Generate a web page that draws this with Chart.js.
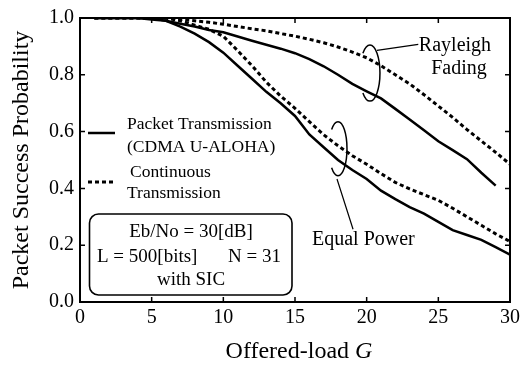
<!DOCTYPE html>
<html>
<head>
<meta charset="utf-8">
<script src="https://cdn.jsdelivr.net/npm/chart.js@4"></script>
<style>
html, body { margin: 0; padding: 0; background: #fff; }
</style>
</head>
<body>
<canvas id="chart" width="531" height="369"></canvas>
<script>
// Offered load G (x axis)
const loads = [1, 2, 3, 4, 5, 6, 7, 8, 9, 10, 11, 12, 13, 14, 15, 16, 17, 18, 19, 20, 21, 22, 23, 24, 25, 26, 27, 28, 29, 30];
// Rayleigh fading
const fadingPacket = [1.0, 1.0, 1.0, 1.0, 0.995, 0.99, 0.98, 0.97, 0.958, 0.95, 0.935, 0.92, 0.906, 0.892, 0.876, 0.855, 0.83, 0.8, 0.768, 0.742, 0.717, 0.68, 0.643, 0.605, 0.566, 0.535, 0.503, 0.455, 0.41];
const fadingContinuous = [1.0, 1.0, 1.0, 1.0, 1.0, 1.0, 0.995, 0.99, 0.985, 0.978, 0.97, 0.962, 0.955, 0.945, 0.936, 0.925, 0.913, 0.898, 0.88, 0.86, 0.832, 0.8, 0.768, 0.73, 0.69, 0.65, 0.607, 0.567, 0.527, 0.485];
// Equal power
const equalPacket = [1.0, 1.0, 1.0, 1.0, 1.0, 0.99, 0.97, 0.945, 0.915, 0.878, 0.832, 0.786, 0.74, 0.7, 0.655, 0.59, 0.545, 0.5, 0.465, 0.433, 0.392, 0.362, 0.334, 0.311, 0.282, 0.253, 0.236, 0.219, 0.193, 0.167];
const equalContinuous = [1.0, 1.0, 1.0, 1.0, 1.0, 1.0, 0.99, 0.975, 0.96, 0.936, 0.885, 0.832, 0.774, 0.725, 0.682, 0.635, 0.589, 0.55, 0.515, 0.485, 0.452, 0.421, 0.398, 0.378, 0.358, 0.33, 0.3, 0.27, 0.24, 0.213];

const xTicks = [0, 5, 10, 15, 20, 25, 30];
const yTicks = [0.0, 0.2, 0.4, 0.6, 0.8, 1.0];

const serif = '"Liberation Serif", "Times New Roman", serif';

function pts(ys) {
    return ys.map((y, i) => ({ x: loads[i], y: y }));
}

// draws frame, inner ticks, legend, parameter box and annotations
const paperPlugin = {
    id: 'paper',
    afterDraw(chart) {
        const ctx = chart.ctx;
        const a = chart.chartArea;
        const sx = chart.scales.x;
        const sy = chart.scales.y;
        ctx.save();
        ctx.strokeStyle = '#000';
        ctx.fillStyle = '#000';

        // frame
        ctx.lineWidth = 2;
        ctx.strokeRect(a.left, a.top, a.right - a.left, a.bottom - a.top);

        // inner ticks on all four sides
        ctx.lineWidth = 1.5;
        ctx.beginPath();
        xTicks.slice(1, -1).forEach(v => {
            const px = sx.getPixelForValue(v);
            ctx.moveTo(px, a.bottom); ctx.lineTo(px, a.bottom - 5);
            ctx.moveTo(px, a.top); ctx.lineTo(px, a.top + 5);
        });
        yTicks.slice(1, -1).forEach(v => {
            const py = sy.getPixelForValue(v);
            ctx.moveTo(a.left, py); ctx.lineTo(a.left + 5, py);
            ctx.moveTo(a.right, py); ctx.lineTo(a.right - 5, py);
        });
        ctx.stroke();

        // legend
        ctx.lineWidth = 2.5;
        ctx.beginPath();
        ctx.moveTo(a.left + 8, a.top + 115); ctx.lineTo(a.left + 35, a.top + 115);
        ctx.stroke();
        ctx.setLineDash([4, 3]);
        ctx.lineWidth = 3;
        ctx.beginPath();
        ctx.moveTo(a.left + 8, a.top + 164); ctx.lineTo(a.left + 35, a.top + 164);
        ctx.stroke();
        ctx.setLineDash([]);

        ctx.font = '17.5px ' + serif;
        ctx.textAlign = 'left';
        ctx.textBaseline = 'middle';
        ctx.fillText('Packet Transmission', a.left + 47, a.top + 106);
        ctx.fillText('(CDMA U-ALOHA)', a.left + 47, a.top + 129);
        ctx.fillText('Continuous', a.left + 50, a.top + 154);
        ctx.fillText('Transmission', a.left + 47, a.top + 175);

        // parameter box
        ctx.lineWidth = 1.6;
        ctx.beginPath();
        ctx.roundRect(a.left + 9.5, a.top + 196, 202.5, 81, 9);
        ctx.stroke();
        ctx.font = '19px ' + serif;
        ctx.textAlign = 'center';
        ctx.fillText('Eb/No = 30[dB]', a.left + 111, a.top + 214);
        ctx.fillText('with SIC', a.left + 111, a.top + 262);
        ctx.textAlign = 'left';
        ctx.fillText('L = 500[bits]', a.left + 17, a.top + 239);
        ctx.fillText('N = 31', a.left + 148, a.top + 239);

        // bracket ellipses with leader lines
        ctx.lineWidth = 1.5;
        ctx.beginPath();
        ctx.ellipse(sx.getPixelForValue(20.23), sy.getPixelForValue(0.806), 10, 28, 0, -0.75 * Math.PI, 0.75 * Math.PI);
        ctx.stroke();
        ctx.beginPath();
        ctx.ellipse(sx.getPixelForValue(18.0), sy.getPixelForValue(0.54), 9, 27, 0, -0.75 * Math.PI, 0.75 * Math.PI);
        ctx.stroke();
        ctx.lineWidth = 1.2;
        ctx.beginPath();
        ctx.moveTo(sx.getPixelForValue(20.72), sy.getPixelForValue(0.886));
        ctx.lineTo(sx.getPixelForValue(23.6), sy.getPixelForValue(0.907));
        ctx.moveTo(sx.getPixelForValue(17.93), sy.getPixelForValue(0.433));
        ctx.lineTo(sx.getPixelForValue(19.05), sy.getPixelForValue(0.256));
        ctx.stroke();

        ctx.font = '20px ' + serif;
        ctx.textAlign = 'center';
        ctx.fillText('Rayleigh', sx.getPixelForValue(26.16), sy.getPixelForValue(0.902));
        ctx.fillText('Fading', sx.getPixelForValue(26.44), sy.getPixelForValue(0.821));
        ctx.fillText('Equal Power', sx.getPixelForValue(19.77), sy.getPixelForValue(0.22));

        // x axis title with italic G
        ctx.font = '24px ' + serif;
        const part1 = 'Offered-load ';
        const w1 = ctx.measureText(part1).width;
        ctx.font = 'italic 24px ' + serif;
        const w2 = ctx.measureText('G').width;
        const start = (a.left + a.right) / 2 + 4 - (w1 + w2) / 2;
        ctx.textAlign = 'left';
        ctx.font = '24px ' + serif;
        ctx.fillText(part1, start, chart.height - 17);
        ctx.font = 'italic 24px ' + serif;
        ctx.fillText('G', start + w1, chart.height - 17);

        ctx.restore();
    }
};

document.addEventListener('DOMContentLoaded', function() {
    const ctx = document.getElementById('chart').getContext('2d');
    new Chart(ctx, {
        type: 'line',
        data: {
            datasets: [
                { label: 'Rayleigh packet', data: pts(fadingPacket), borderColor: '#000', borderWidth: 2.5 },
                { label: 'Rayleigh continuous', data: pts(fadingContinuous), borderColor: '#000', borderWidth: 3, borderDash: [4, 3] },
                { label: 'Equal packet', data: pts(equalPacket), borderColor: '#000', borderWidth: 2.5 },
                { label: 'Equal continuous', data: pts(equalContinuous), borderColor: '#000', borderWidth: 3, borderDash: [4, 3] }
            ]
        },
        options: {
            responsive: false,
            animation: false,
            devicePixelRatio: 1,
            layout: { padding: { top: 13, right: 21, left: 0, bottom: 0 } },
            plugins: { legend: { display: false }, tooltip: { enabled: false } },
            elements: { point: { radius: 0 }, line: { tension: 0, fill: false } },
            scales: {
                x: {
                    type: 'linear', min: 0, max: 30,
                    afterBuildTicks: s => { s.ticks = xTicks.map(v => ({ value: v })); },
                    ticks: { padding: 4, color: '#000', font: { family: serif, size: 20 } },
                    grid: { display: false, drawTicks: false },
                    border: { display: false },
                    afterFit: s => { s.height = 67; }
                },
                y: {
                    min: 0, max: 1,
                    afterBuildTicks: s => { s.ticks = yTicks.map(v => ({ value: v })); },
                    ticks: { padding: 6, color: '#000', font: { family: serif, size: 20 }, callback: v => v.toFixed(1) },
                    grid: { display: false, drawTicks: false },
                    border: { display: false },
                    title: { display: true, text: 'Packet Success Probability', color: '#000', font: { family: serif, size: 24 }, padding: { top: 7, bottom: 0 } },
                    afterFit: s => { s.width = 80; }
                }
            }
        },
        plugins: [paperPlugin]
    });
});
</script>
</body>
</html>
